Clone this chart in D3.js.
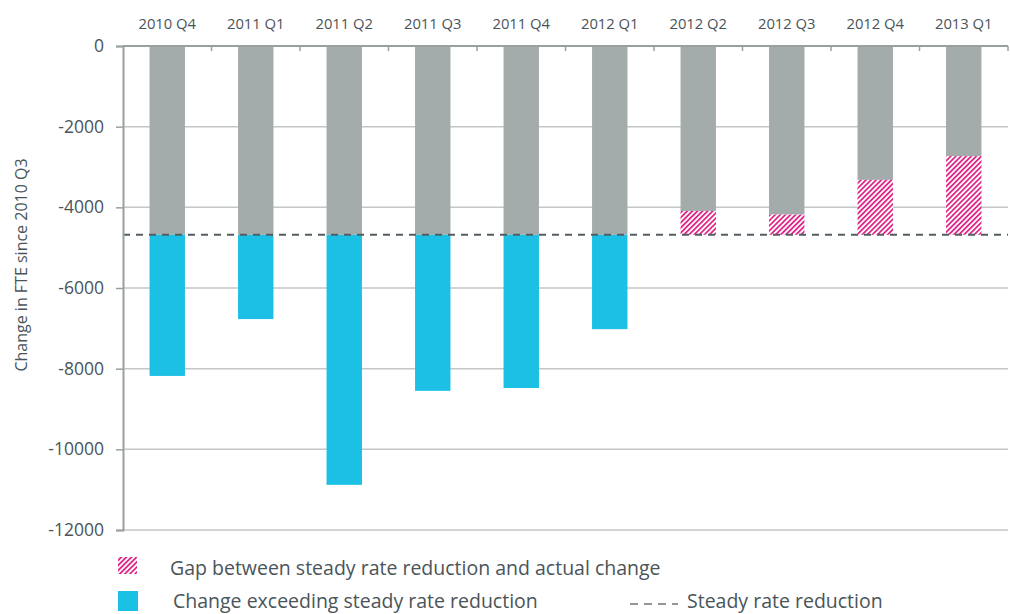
<!DOCTYPE html>
<html>
<head>
<meta charset="utf-8">
<script src="https://cdn.jsdelivr.net/npm/d3@7"></script>
<style>
  body { margin: 0; background: #fff; }
  text { font-family: "Open Sans", "Liberation Sans", sans-serif; fill: #4a5459; }
</style>
</head>
<body>
<svg id="chart" width="1010" height="614"></svg>
<script>
// Quarters and the change in FTE at each one
const quarters = ["2010 Q4", "2011 Q1", "2011 Q2", "2011 Q3", "2011 Q4", "2012 Q1", "2012 Q2", "2012 Q3", "2012 Q4", "2013 Q1"];
const actualChange = [-8180, -6770, -10880, -8550, -8480, -7020, -4090, -4180, -3320, -2730];
const steadyRate = -4680;
const yTicks = [0, -2000, -4000, -6000, -8000, -10000, -12000];

const svg = d3.select("#chart");
const margin = { top: 46, right: 2, bottom: 84, left: 123 };
const width = 1010 - margin.left - margin.right;
const height = 614 - margin.top - margin.bottom;

// Hatch pattern for the gap
const defs = svg.append("defs");
const pat = defs.append("pattern")
  .attr("id", "hatch")
  .attr("patternUnits", "userSpaceOnUse")
  .attr("width", 3.6).attr("height", 6)
  .attr("patternTransform", "rotate(45)");
pat.append("rect").attr("width", 3.6).attr("height", 6).attr("fill", "#fff");
pat.append("rect").attr("x", 0).attr("width", 1.8).attr("height", 6).attr("fill", "#e0288a");

const g = svg.append("g").attr("transform", `translate(${margin.left},${margin.top})`);

const x = d3.scaleBand().domain(quarters).range([0, width]).paddingInner(0.6).paddingOuter(0.3);
const y = d3.scaleLinear().domain([-12000, 0]).range([height, 0]);
const band = d3.scaleBand().domain(quarters).range([0, width]);

// Gridlines
g.append("g").selectAll("line")
  .data(yTicks.filter(d => d !== 0))
  .enter().append("line")
  .attr("x1", 0).attr("x2", width)
  .attr("y1", d => y(d)).attr("y2", d => y(d))
  .attr("stroke", "#c4c7c7").attr("stroke-width", 1.5);

// Grey part: 0 down to the smaller of actual / steady
g.append("g").selectAll("rect")
  .data(quarters)
  .enter().append("rect")
  .attr("x", d => x(d))
  .attr("width", x.bandwidth())
  .attr("y", y(0))
  .attr("height", (d, i) => y(Math.max(actualChange[i], steadyRate)) - y(0))
  .attr("fill", "#a4abab");

// Blue part: below steady rate
g.append("g").selectAll("rect")
  .data(quarters.filter((d, i) => actualChange[i] < steadyRate))
  .enter().append("rect")
  .attr("x", d => x(d))
  .attr("width", x.bandwidth())
  .attr("y", y(steadyRate))
  .attr("height", d => y(actualChange[quarters.indexOf(d)]) - y(steadyRate))
  .attr("fill", "#1bc0e4");

// Hatched gap: above steady rate
g.append("g").selectAll("rect")
  .data(quarters.filter((d, i) => actualChange[i] > steadyRate))
  .enter().append("rect")
  .attr("x", d => x(d))
  .attr("width", x.bandwidth())
  .attr("y", d => y(actualChange[quarters.indexOf(d)]))
  .attr("height", d => y(steadyRate) - y(actualChange[quarters.indexOf(d)]))
  .attr("fill", "url(#hatch)");

// Steady rate dashed line
g.append("line")
  .attr("x1", 0).attr("x2", width)
  .attr("y1", y(steadyRate)).attr("y2", y(steadyRate))
  .attr("stroke", "#535d62").attr("stroke-width", 2)
  .attr("stroke-dasharray", "7,6");

// Y axis
const yAxis = g.append("g")
  .call(d3.axisLeft(y).tickValues(yTicks).tickSize(7).tickPadding(12).tickFormat(d => String(d)));
yAxis.select(".domain").attr("stroke", "#9a9fa0").attr("stroke-width", 2);
yAxis.selectAll(".tick line").attr("stroke", "#9a9fa0").attr("stroke-width", 1.5);
yAxis.selectAll(".tick text").attr("font-size", 17.5).attr("fill", "#4a5459")
  .style("font-family", "'Open Sans', sans-serif");

// Top axis line at zero with ticks between categories
g.append("line")
  .attr("x1", 0).attr("x2", width).attr("y1", y(0)).attr("y2", y(0))
  .attr("stroke", "#9a9fa0").attr("stroke-width", 2);
g.append("g").selectAll("line")
  .data(quarters.slice(1).concat(["end"]))
  .enter().append("line")
  .attr("x1", (d, i) => band.step() * (i + 1))
  .attr("x2", (d, i) => band.step() * (i + 1))
  .attr("y1", y(0)).attr("y2", y(0) + 5)
  .attr("stroke", "#9a9fa0").attr("stroke-width", 1.5);

// Category labels above
g.append("g").selectAll("text")
  .data(quarters)
  .enter().append("text")
  .attr("x", d => band(d) + band.bandwidth() / 2)
  .attr("y", -17)
  .attr("text-anchor", "middle")
  .attr("font-size", 14.8)
  .text(d => d);

// Y axis title
svg.append("text")
  .attr("transform", `translate(27,265) rotate(-90)`)
  .attr("text-anchor", "middle")
  .attr("font-size", 16)
  .attr("fill", "#5d676b")
  .text("Change in FTE since 2010 Q3");

// Legend
const legend = svg.append("g");
legend.append("rect").attr("x", 118).attr("y", 557).attr("width", 19).attr("height", 17).attr("fill", "url(#hatch)");
legend.append("text").attr("x", 170).attr("y", 575).attr("font-size", 19.5).attr("fill", "#333").text("Gap between steady rate reduction and actual change");
legend.append("rect").attr("x", 118).attr("y", 591).attr("width", 20).attr("height", 20).attr("fill", "#1bc0e4");
legend.append("text").attr("x", 173).attr("y", 608).attr("font-size", 19.5).attr("fill", "#333").text("Change exceeding steady rate reduction");
legend.append("line").attr("x1", 630).attr("x2", 678).attr("y1", 604).attr("y2", 604)
  .attr("stroke", "#6b7478").attr("stroke-width", 1.5).attr("stroke-dasharray", "8,6");
legend.append("text").attr("x", 687).attr("y", 608).attr("font-size", 19.5).attr("fill", "#333").text("Steady rate reduction");
</script>
</body>
</html>
